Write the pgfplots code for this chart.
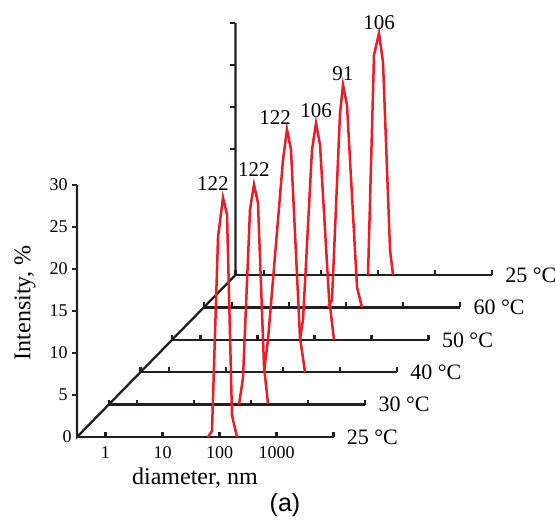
\documentclass[border=0pt]{standalone}
\usepackage{pgfplots}
\pgfplotsset{compat=1.18}
\usepackage{pgfplotstable}
\usepackage{fontspec}
\setmainfont{Liberation Serif}
\newfontfamily\arialfont{Liberation Sans}

\definecolor{dlsred}{RGB}{236,28,36}
\definecolor{axisblack}{RGB}{35,31,32}

% size distributions: log10(diameter / nm) and intensity (%)
% front slice (25 C, first heating)
\pgfplotstableread{
logd I
1.798 0
1.868 0.7
1.974 23.8
2.061 28.5
2.132 26.5
2.219 2.6
2.307 0
}\tA
% 30 C
\pgfplotstableread{
logd I
1.786 0
1.856 3.2
1.979 23.2
2.049 26.2
2.119 24.0
2.225 4.5
2.295 0.1
}\tB
% 40 C
\pgfplotstableread{
logd I
1.668 0
1.739 3.9
2.002 25.3
2.072 28.9
2.142 26.5
2.300 4.1
2.388 0
}\tC
% 50 C
\pgfplotstableread{
logd I
1.744 0
1.797 2.4
1.954 22.6
2.025 25.8
2.095 23.2
2.253 5.0
2.340 0
}\tD
% 60 C
\pgfplotstableread{
logd I
1.679 0
1.749 0.9
1.889 23.0
1.942 26.5
2.012 24.1
2.188 2.4
2.275 0
}\tE
% back slice (25 C after cooling)
\pgfplotstableread{
logd I
1.825 0
1.930 26.2
2.018 28.8
2.088 25.3
2.211 3.0
2.263 0
}\tF

\begin{document}
\begin{tikzpicture}
\begin{axis}[
    hide axis,
    clip=false,
    x={(28.5pt,0pt)},
    y={(15.85pt,16.2pt)},
    z={(0pt,4.2pt)},
    xmin=-0.5, xmax=4,
    ymin=0, ymax=5,
    zmin=0, zmax=30,
]
\coordinate (O) at (axis cs:-0.5,0,0);

% frame: front and back intensity axes, diagonal, one baseline per temperature
\draw[axisblack, line width=1.15pt] (axis cs:-0.5,0,30) -- (axis cs:-0.5,0,0)
    -- (axis cs:-0.5,5,0) -- (axis cs:-0.5,5,30);
\pgfplotsinvokeforeach{5,10,15,20,25,30}{
  \draw[axisblack, line width=1.15pt] (axis cs:-0.5,0,#1) -- ++(-2.5pt,0pt);
}
\pgfplotsinvokeforeach{15,20,25,30}{
  \draw[axisblack, line width=1.15pt] (axis cs:-0.5,5,#1) -- ++(-2.5pt,0pt);
}
\pgfplotsinvokeforeach{0,1,2,3,4,5}{
  \draw[axisblack, line width=1.15pt] (axis cs:-0.5,#1,0) -- (axis cs:4,#1,0);
  \draw[axisblack, line width=1.15pt]
    (axis cs:-0.5,#1,0) -- ++(0pt,2.5pt)
    (axis cs:0,#1,0) -- ++(0pt,2.5pt)
    (axis cs:1,#1,0) -- ++(0pt,2.5pt)
    (axis cs:2,#1,0) -- ++(0pt,2.5pt)
    (axis cs:3,#1,0) -- ++(0pt,2.5pt)
    (axis cs:4,#1,0) -- ++(0pt,2.5pt);
}

% intensity tick labels
\pgfplotsinvokeforeach{5,10,15,20,25,30}{
  \node[anchor=east, inner sep=0pt, font=\fontsize{9}{10}\selectfont, xshift=-4.5pt]
    at (axis cs:-0.5,0,#1) {#1};
}
\node[anchor=east, inner sep=0pt, font=\fontsize{9}{10}\selectfont, xshift=-2.5pt]
  at (axis cs:-0.5,0,0) {0};

% diameter tick labels
\node[anchor=north, inner sep=0pt, font=\fontsize{9}{10}\selectfont, yshift=-4.5pt] at (axis cs:0,0,0) {1};
\node[anchor=north, inner sep=0pt, font=\fontsize{9}{10}\selectfont, yshift=-4.5pt] at (axis cs:1,0,0) {10};
\node[anchor=north, inner sep=0pt, font=\fontsize{9}{10}\selectfont, yshift=-4.5pt] at (axis cs:2,0,0) {100};
\node[anchor=north, inner sep=0pt, font=\fontsize{9}{10}\selectfont, yshift=-4.5pt] at (axis cs:3,0,0) {1000};

% temperature labels
\node[anchor=west, inner sep=0pt, font=\fontsize{11}{12}\selectfont, xshift=6.5pt] at (axis cs:4,0,0) {25 °C};
\node[anchor=west, inner sep=0pt, font=\fontsize{11}{12}\selectfont, xshift=6.5pt] at (axis cs:4,1,0) {30 °C};
\node[anchor=west, inner sep=0pt, font=\fontsize{11}{12}\selectfont, xshift=6.5pt] at (axis cs:4,2,0) {40 °C};
\node[anchor=west, inner sep=0pt, font=\fontsize{11}{12}\selectfont, xshift=6.5pt] at (axis cs:4,3,0) {50 °C};
\node[anchor=west, inner sep=0pt, font=\fontsize{11}{12}\selectfont, xshift=6.5pt] at (axis cs:4,4,0) {60 °C};
\node[anchor=west, inner sep=0pt, font=\fontsize{11}{12}\selectfont, xshift=6.5pt] at (axis cs:4,5,0) {25 °C};

% distributions
\addplot3[dlsred, line width=1.25pt] table[x=logd, y expr=0, z=I] {\tA};
\addplot3[dlsred, line width=1.25pt] table[x=logd, y expr=1, z=I] {\tB};
\addplot3[dlsred, line width=1.25pt] table[x=logd, y expr=2, z=I] {\tC};
\addplot3[dlsred, line width=1.25pt] table[x=logd, y expr=3, z=I] {\tD};
\addplot3[dlsred, line width=1.25pt] table[x=logd, y expr=4, z=I] {\tE};
\addplot3[dlsred, line width=1.25pt] table[x=logd, y expr=5, z=I] {\tF};

% peak diameters, nm
\node[anchor=base, inner sep=0pt, font=\fontsize{10.5}{12}\selectfont, xshift=-5pt, yshift=3.5pt] at (axis cs:2.061,0,28.5) {122};
\node[anchor=base, inner sep=0pt, font=\fontsize{10.5}{12}\selectfont, yshift=4pt] at (axis cs:2.049,1,26.2) {122};
\node[anchor=base, inner sep=0pt, font=\fontsize{10.5}{12}\selectfont, xshift=-6pt, yshift=2.5pt] at (axis cs:2.072,2,28.9) {122};
\node[anchor=base, inner sep=0pt, font=\fontsize{10.5}{12}\selectfont, yshift=3pt] at (axis cs:2.025,3,25.8) {106};
\node[anchor=base, inner sep=0pt, font=\fontsize{10.5}{12}\selectfont, yshift=2pt] at (axis cs:1.942,4,26.5) {91};
\node[anchor=base, inner sep=0pt, font=\fontsize{10.5}{12}\selectfont, yshift=2pt] at (axis cs:2.018,5,28.8) {106};
\end{axis}

\node[rotate=90, inner sep=0pt, font=\fontsize{12}{14}\selectfont] at ([xshift=-26pt,yshift=67pt]O) {Intensity, \%};
\node[inner sep=0pt, font=\fontsize{12}{14}\selectfont] at ([xshift=59pt,yshift=-20.5pt]O) {diameter, nm};
\node[inner sep=0pt, font=\arialfont\fontsize{12.5}{14}\selectfont] at ([xshift=104pt,yshift=-34pt]O) {(a)};

\pgfresetboundingbox
\path (O) ++(-38.5pt,-42pt) rectangle ++(278pt,260.5pt);
\end{tikzpicture}
\end{document}
